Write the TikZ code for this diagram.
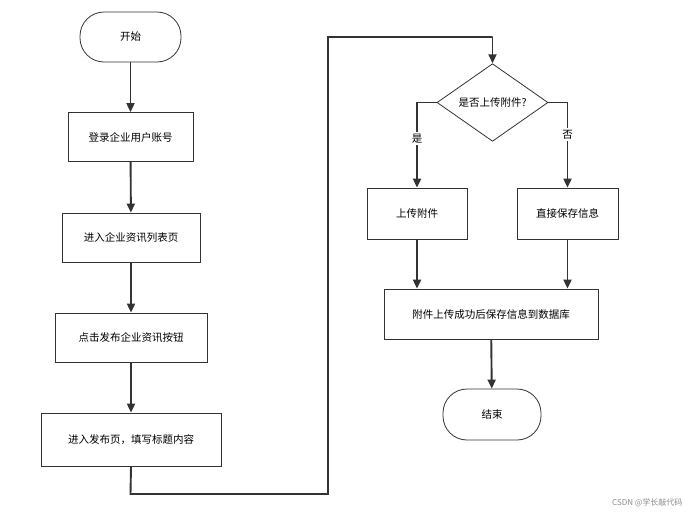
\documentclass[tikz,border=0pt]{standalone}
\usepackage{fontspec}
\setmainfont{Noto Sans CJK SC}
\usetikzlibrary{shapes.geometric,arrows.meta}
\begin{document}
\begin{tikzpicture}[x=1pt,y=-1pt,
  box/.style={draw=black!80,line width=0.8pt,minimum height=49pt,font=\fontsize{10.5}{12}\selectfont},
  term/.style={box,rounded corners=24pt,minimum height=50pt},
  flow/.style={draw=black!80,line width=1.9pt,-{Triangle[length=9pt,width=8pt]}},
  line/.style={draw=black!80,line width=1.9pt}]
\useasboundingbox[fill=white] (0,0) rectangle (692,517);
\node[term,minimum width=101pt] (start) at (130.5,37) {开始};
\node[box,minimum width=125pt] (b1) at (130.5,137) {登录企业用户账号};
\node[box,minimum width=138pt] (b2) at (131,237.5) {进入企业资讯列表页};
\node[box,minimum width=152pt] (b3) at (131,337.5) {点击发布企业资讯按钮};
\node[box,minimum width=180pt,minimum height=53pt] (b4) at (131,439.5) {进入发布页，填写标题内容};
\node[diamond,draw=black!80,line width=0.8pt,minimum width=111pt,minimum height=71pt,inner sep=0pt,font=\fontsize{10.5}{12}\selectfont] (d) at (492.5,102.5) {是否上传附件?};
\node[box,minimum width=100pt,minimum height=51pt] (up) at (417,213.5) {上传附件};
\node[box,minimum width=101pt,minimum height=51pt] (save) at (567.5,213.5) {直接保存信息};
\node[box,minimum width=214pt,minimum height=50pt] (db) at (491,314) {附件上传成功后保存信息到数据库};
\node[term,minimum width=98pt,minimum height=51pt] (end) at (492,414.5) {结束};
\coordinate (c1) at (130.5,494);
\coordinate (c2) at (328,494);
\coordinate (c3) at (328,37);
\coordinate (c4) at (492.5,37);
\draw[flow] (start) -- (b1);
\draw[flow] (b1) -- (b2);
\draw[flow] (b2) -- (b3);
\draw[flow] (b3) -- (b4);
\draw[line] (b4.south) -- (c1) -- (c2) -- (c3) -- (c4);
\draw[flow] (c4) -- (d.north);
\draw[flow] (d.west) -| node[pos=0.71,fill=white,inner sep=2pt,font=\fontsize{10.5}{12}\selectfont]{是} (up.north);
\draw[flow] (d.east) -| node[pos=0.69,fill=white,inner sep=2pt,font=\fontsize{10.5}{12}\selectfont]{否} (save.north);
\draw[flow] (up.south) -- (up.south |- db.north);
\draw[flow] (save.south) -- (save.south |- db.north);
\draw[flow] (db) -- (end);
\node[text=black!45,font=\fontsize{8}{10}\selectfont,anchor=east] (wm) at (686,503) {CSDN @学长敲代码};
\end{tikzpicture}
\end{document}
